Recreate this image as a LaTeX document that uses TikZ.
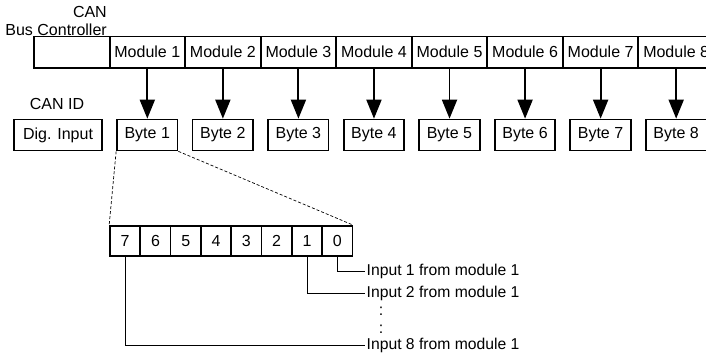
\documentclass[tikz,border=0pt]{standalone}
\usepackage{fontspec}
\setmainfont{Liberation Sans}
\usetikzlibrary{arrows.meta}
\begin{document}
\begin{tikzpicture}[x=1pt,y=-1pt,
  txt/.style={font=\fontsize{16}{18}\selectfont, inner sep=0pt},
  modbox/.style={draw, line width=1.9pt, minimum width=75.55pt, minimum height=31.5pt, inner sep=0pt, font=\fontsize{16}{18}\selectfont},
  bytebox/.style={draw, line width=1.7pt, minimum width=60.5pt, minimum height=31pt, inner sep=0pt, font=\fontsize{16}{18}\selectfont},
  bitbox/.style={draw, line width=1.7pt, minimum width=30.3pt, minimum height=30pt, inner sep=0pt, font=\fontsize{16}{18}\selectfont},
  down/.style={line width=1.9pt, -{Triangle[length=19pt,width=15pt]}},
  zoomline/.style={line width=0.7pt, dash pattern=on 3pt off 2pt},
  lead/.style={line width=0.8pt},
  itxt/.style={font=\fontsize{15.7}{18}\selectfont, inner sep=1.5pt, anchor=west}]
\useasboundingbox (0,0) rectangle (706,356);

% top row
\node[modbox] (m0) at (34+37.775,52.25) {};
\foreach \k in {1,...,8} {
  \node[modbox] (m\k) at (34+75.55*\k+37.775,52.25) {Module \k};
}
\node[txt, anchor=east] (can) at (107,12) {CAN};
\node[txt, anchor=east] (bus) at (107,30) {Bus Controller};

% CAN ID row
\node[txt] (canid) at (57,104) {CAN ID};
\node[bytebox, minimum width=88pt] (dig) at (58,135) {Dig. Input};
\foreach \k in {1,...,8} {
  \node[bytebox] (b\k) at (117+30.25+75.55*\k-75.55,135) {Byte \k};
  \draw[down] (m\k.south) -- (m\k.south |- b\k.north);
}

% bits
\foreach \i [evaluate=\i as \b using int(7-\i)] in {0,...,7} {
  \node[bitbox] (bit\b) at (110+15.15+30.3*\i,241) {\b};
}
\draw[zoomline] (b1.south west) -- (bit7.north west);
\draw[zoomline] (b1.south east) -- (bit0.north east);

% inputs
\node[itxt] (t1) at (365,271) {Input 1 from module 1};
\node[itxt] (t2) at (365,293) {Input 2 from module 1};
\node[itxt] (t8) at (365,345) {Input 8 from module 1};
\node[txt] (d1) at (381,311) {:};
\node[txt] (d2) at (381,329) {:};
\draw[lead] (bit0.south) |- (t1.west);
\draw[lead] (bit1.south) |- (t2.west);
\draw[lead] (bit7.south) |- (t8.west);
\end{tikzpicture}
\end{document}
